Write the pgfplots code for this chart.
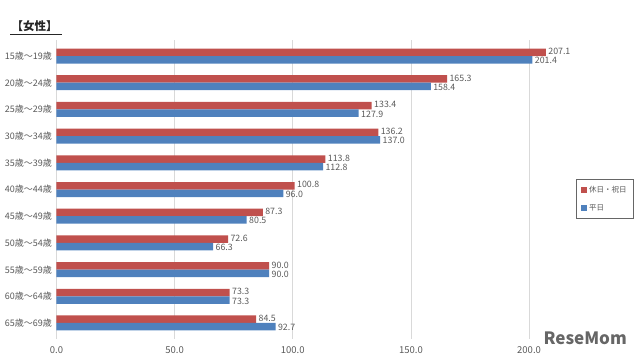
\documentclass[border=0pt]{standalone}
\usepackage{pgfplots}
\pgfplotsset{compat=1.18}
\usepackage{fontspec}
\setmainfont{Noto Sans CJK JP}
\definecolor{cred}{HTML}{C0504D}
\definecolor{cblue}{HTML}{4F81BD}
\definecolor{ctext}{HTML}{595959}
\definecolor{cgrid}{HTML}{D9D9D9}
\begin{document}
\begin{tikzpicture}
\path[use as bounding box] (0,0) rectangle (640pt,362pt);
\begin{axis}[
  at={(56.5pt,23pt)}, anchor=south west,
  scale only axis, width=508pt, height=299pt,
  xbar, bar width=7.5pt,
  xmin=0, xmax=215, ymin=-0.6, ymax=10.6,
  y dir=reverse,
  ytick={0,...,10},
  yticklabels={15歳～19歳,20歳～24歳,25歳～29歳,30歳～34歳,35歳～39歳,40歳～44歳,45歳～49歳,50歳～54歳,55歳～59歳,60歳～64歳,65歳～69歳},
  xtick={0,50,100,150,200},
  xticklabel={\pgfmathprintnumber[fixed,fixed zerofill,precision=1]{\tick}},
  /pgf/number format/assume math mode=true,
  /pgf/number format/fixed,
  /pgf/number format/fixed zerofill,
  /pgf/number format/precision=1,
  axis line style={draw=none},
  major tick length=0pt,
  xmajorgrids, grid style={cgrid, line width=0.8pt},
  tick label style={font=\fontsize{9}{10}\selectfont, text=ctext},
  xticklabel style={yshift=-4pt, font=\fontsize{9.5}{10}\selectfont},
  yticklabel style={xshift=-1pt},
  nodes near coords,
  nodes near coords style={font=\fontsize{8.8}{10}\selectfont, text=ctext, xshift=-1pt, inner ysep=0pt, text height=6.2pt, text depth=0pt},
  legend style={at={(rel axis cs:1.022,0.535)}, anchor=north west, draw=gray!80!black, line width=0.8pt, font=\fontsize{7.5}{9}\selectfont, text=ctext, row sep=6pt, inner xsep=5pt, inner ysep=5pt},
  legend cell align=left,
  legend image code/.code={\fill[#1] (0pt,-3pt) rectangle (6pt,3pt);},
]
\addplot[fill=cred, draw=none, bar shift=3.75pt, every node near coord/.append style={yshift=0.9pt}] coordinates {
(207.1,0) (165.3,1) (133.4,2) (136.2,3) (113.8,4) (100.8,5) (87.3,6) (72.6,7) (90.0,8) (73.3,9) (84.5,10)};
\addplot[fill=cblue, draw=none, bar shift=-3.75pt, every node near coord/.append style={yshift=-0.9pt}] coordinates {
(201.4,0) (158.4,1) (127.9,2) (137.0,3) (112.8,4) (96.0,5) (80.5,6) (66.3,7) (90.0,8) (73.3,9) (92.7,10)};
\legend{休日・祝日, 平日}
\end{axis}
\node[anchor=base west, font=\bfseries\fontsize{11.5}{13}\selectfont, text=black!85] (t) at (8pt,331pt) {【女性】};
\draw[black!85, line width=0.8pt] (10pt,328pt) -- (62pt,328pt);
\node[anchor=south east, font=\bfseries\fontsize{17}{19}\selectfont, text=black!60, inner sep=0pt] at (627pt,17pt) {ReseMom};
\end{tikzpicture}
\end{document}
